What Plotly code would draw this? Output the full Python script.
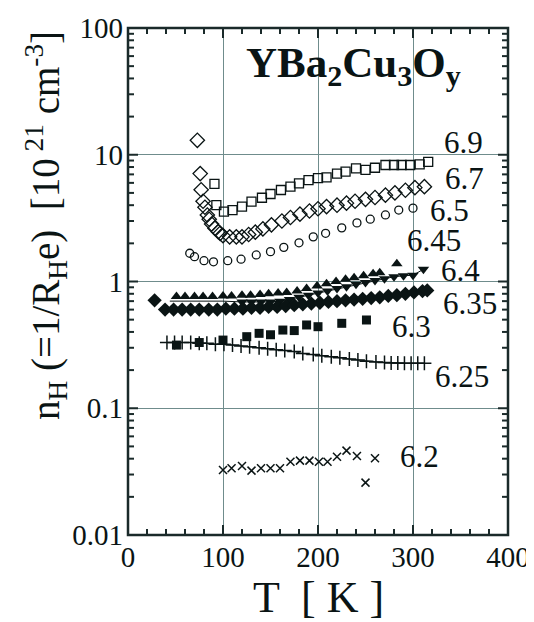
import math
import plotly.graph_objects as go

# ---- data ----
T_69 = [91, 93, 101, 110, 120, 130, 141, 150, 161, 171, 180, 190, 200, 209, 220, 229, 240, 250, 260, 271, 280, 288, 297, 307, 316]
n_69 = [5.9, 4.0, 3.56, 3.66, 3.89, 4.26, 4.58, 4.9, 5.27, 5.6, 5.95, 6.3, 6.55, 6.64, 7.1, 7.35, 7.8, 7.6, 7.9, 8.3, 8.3, 8.3, 8.3, 8.4, 8.8]

T_67 = [73, 76, 77, 79, 81, 83.5, 85.5, 88, 91.5, 95, 97, 100, 107, 114, 120, 127, 134, 142, 151, 162, 171, 181, 191, 200, 209, 220, 230, 239, 250, 260, 271, 281, 292, 302, 312]
n_67 = [13.0, 7.1, 5.3, 4.3, 3.85, 3.35, 3.1, 2.84, 2.63, 2.47, 2.4, 2.3, 2.25, 2.25, 2.25, 2.35, 2.45, 2.6, 2.8, 3.0, 3.2, 3.4, 3.6, 3.75, 3.9, 4.0, 4.15, 4.3, 4.45, 4.6, 4.8, 5.0, 5.25, 5.5, 5.6]

T_65 = [65, 70, 80, 90, 105, 119, 135, 150, 164, 180, 195, 208, 225, 241, 255, 271, 285, 300]
n_65 = [1.67, 1.57, 1.46, 1.43, 1.46, 1.5, 1.62, 1.72, 1.86, 2.02, 2.25, 2.4, 2.65, 2.9, 3.1, 3.35, 3.66, 3.79]

T_645 = [51, 60, 70, 79, 89, 100, 109, 120, 129, 139, 148, 158, 167, 178, 188, 199, 209, 219, 229, 238, 248, 258, 265, 283]
n_645 = [0.76, 0.76, 0.76, 0.76, 0.76, 0.77, 0.77, 0.78, 0.78, 0.79, 0.8, 0.81, 0.82, 0.84, 0.88, 0.92, 0.96, 1.0, 1.04, 1.07, 1.11, 1.15, 1.17, 1.38]

T_64 = [44, 60, 80, 100, 120, 130, 140, 150, 160, 170, 180, 190, 200, 210, 220, 230, 240, 250, 260, 270, 280, 290, 300, 311]
n_64 = [0.70, 0.70, 0.70, 0.70, 0.69, 0.69, 0.69, 0.69, 0.70, 0.72, 0.75, 0.78, 0.81, 0.84, 0.88, 0.91, 0.95, 0.98, 1.02, 1.05, 1.09, 1.11, 1.12, 1.25]

T_635 = [28, 39, 48, 57, 66, 75, 85, 94, 103, 112, 121, 130, 139, 148, 157, 166, 175, 184, 193, 202, 211, 220, 229, 238, 247, 256, 265, 274, 283, 292, 301, 310, 315]
n_635 = [0.71, 0.6, 0.6, 0.6, 0.6, 0.6, 0.6, 0.6, 0.61, 0.61, 0.61, 0.62, 0.62, 0.63, 0.63, 0.64, 0.65, 0.66, 0.67, 0.68, 0.69, 0.7, 0.71, 0.72, 0.73, 0.74, 0.75, 0.77, 0.78, 0.8, 0.82, 0.84, 0.85]

T_63 = [51, 75, 100, 125, 138, 150, 163, 175, 188, 200, 225, 251]
n_63 = [0.315, 0.33, 0.345, 0.367, 0.39, 0.38, 0.414, 0.41, 0.454, 0.44, 0.468, 0.497]

T_625 = [41, 49, 57, 66, 75, 83, 92, 101, 110, 119, 128, 138, 147, 156, 165, 175, 184, 195, 204, 214, 223, 233, 242, 251, 261, 270, 277, 284, 291, 298, 305, 312]
n_625 = [0.33, 0.33, 0.33, 0.33, 0.325, 0.325, 0.32, 0.32, 0.315, 0.31, 0.305, 0.3, 0.295, 0.29, 0.285, 0.28, 0.27, 0.265, 0.26, 0.255, 0.25, 0.245, 0.24, 0.235, 0.232, 0.23, 0.228, 0.227, 0.226, 0.226, 0.226, 0.226]

T_62 = [100, 109, 120, 130, 140, 150, 160, 171, 181, 191, 201, 210, 220, 230, 241, 250, 260]
n_62 = [0.0326, 0.0336, 0.035, 0.0322, 0.0336, 0.0336, 0.0336, 0.0379, 0.0386, 0.0386, 0.0379, 0.0379, 0.0415, 0.0463, 0.042, 0.0259, 0.0403]

series_labels = ["6.9", "6.7", "6.5", "6.45", "6.4", "6.35", "6.3", "6.25", "6.2"]
label_T = [331, 332, 316, 292, 327, 329, 276, 321, 284]
label_n = [12.4, 6.55, 3.66, 2.12, 1.23, 0.676, 0.44, 0.177, 0.0415]

x_ticks = [0, 100, 200, 300, 400]
x_minor = [t for t in range(0, 401, 20) if t % 100]
y_ticks = [0.01, 0.1, 1, 10, 100]
y_tick_text = ["0.01", "0.1", "1", "10", "100"]
y_minor = [d * m for d in [0.01, 0.1, 1, 10] for m in range(2, 10)]

X_RANGE = [0, 400]
Y_RANGE = [-2, 2]   # log10 decades

INK = "#0a1414"
FRAME = "#1a2a2a"
FONT = "Liberation Serif"

fig = go.Figure()

def add(T, n, symbol, size, lw=1.3, mode="markers", line=None, name=""):
    fig.add_trace(go.Scatter(
        x=T, y=n, mode=mode, name=name,
        marker=dict(symbol=symbol, size=size, color=INK, line=dict(color=INK, width=lw)),
        line=line, showlegend=False, cliponaxis=False))

add(T_69, n_69, "square-open", 9, name="6.9")
add(T_67, n_67, "diamond-open", 11, name="6.7")
add(T_65, n_65, "circle-open", 8, name="6.5")
add(T_645, n_645, "triangle-up", 10, lw=0, name="6.45")
fig.add_trace(go.Scatter(x=T_64, y=n_64, mode="lines", line=dict(color=INK, width=1),
                         showlegend=False, hoverinfo="skip"))
T_64m = [t for t in T_64 if t >= 115]
n_64m = [v for t, v in zip(T_64, n_64) if t >= 115]
add(T_64m, n_64m, "triangle-down", 10, lw=0, name="6.4")
add(T_635, n_635, "diamond", 11, lw=0, name="6.35")
add(T_63, n_63, "square", 9, lw=0, name="6.3")
add(T_625, n_625, "cross-thin", 10, lw=1.5, mode="lines+markers",
    line=dict(color=INK, width=1), name="6.25")
add(T_62, n_62, "x-thin", 8, lw=1.5, name="6.2")

for lab, lt, ln in zip(series_labels, label_T, label_n):
    fig.add_annotation(x=lt, y=math.log10(ln), text=lab, showarrow=False,
                       xanchor="left", yanchor="middle",
                       font=dict(family=FONT, size=31, color=INK))

fig.add_annotation(x=122, y=1.70, xref="x", yref="y",
                   text="<b>YBa<sub>2</sub>Cu<sub>3</sub>O<sub>y</sub></b>",
                   showarrow=False, xanchor="left", yanchor="middle",
                   font=dict(family=FONT, size=43, color=INK))

fig.add_annotation(x=-0.215, y=0.61, xref="paper", yref="paper", textangle=-90,
                   text="n<sub>H</sub> (=1/R<sub>H</sub>e)  [10<sup> 21</sup> cm<sup>-3</sup>]",
                   showarrow=False, xanchor="center", yanchor="middle",
                   font=dict(family=FONT, size=39, color=INK))

fig.add_annotation(x=0.5, y=-0.124, xref="paper", yref="paper",
                   text="T  [ K ]", showarrow=False, xanchor="center", yanchor="middle",
                   font=dict(family=FONT, size=44, color=INK))

# ---- frame and tick marks (inside, on all four sides) ----
fig.add_shape(type="rect", xref="paper", yref="paper", x0=0, y0=0, x1=1, y1=1,
              line=dict(color=FRAME, width=2.5), layer="above")

def x_tick(v, length):
    px = (v - X_RANGE[0]) / (X_RANGE[1] - X_RANGE[0])
    for anchor, sign in ((0, 1), (1, -1)):
        fig.add_shape(type="line", xref="paper", yref="paper", x0=px, x1=px,
                      ysizemode="pixel", yanchor=anchor, y0=0, y1=sign * length,
                      line=dict(color=FRAME, width=2), layer="above")

def y_tick(v, length):
    py = (math.log10(v) - Y_RANGE[0]) / (Y_RANGE[1] - Y_RANGE[0])
    for anchor, sign in ((0, 1), (1, -1)):
        fig.add_shape(type="line", xref="paper", yref="paper", y0=py, y1=py,
                      xsizemode="pixel", xanchor=anchor, x0=0, x1=sign * length,
                      line=dict(color=FRAME, width=2), layer="above")

for v in x_ticks[1:-1]:
    x_tick(v, 10)
for v in x_minor:
    x_tick(v, 6)
for v in y_ticks[1:-1]:
    y_tick(v, 10)
for v in y_minor:
    y_tick(v, 6)

tickfont = dict(family=FONT, size=29, color=INK)

fig.update_layout(
    width=526, height=614, margin=dict(l=120, r=26, t=20, b=87),
    paper_bgcolor="white", plot_bgcolor="white",
    font=dict(family=FONT, color=INK),
    xaxis=dict(range=X_RANGE, tickvals=x_ticks, ticks="", showline=False,
               showgrid=True, gridcolor="#6f8c8c", gridwidth=1, zeroline=False, automargin=False,
               tickfont=tickfont, ticklabelstandoff=2),
    yaxis=dict(type="log", range=Y_RANGE, tickvals=y_ticks, ticktext=y_tick_text,
               ticks="", showline=False, automargin=False,
               showgrid=True, gridcolor="#6f8c8c", gridwidth=1, zeroline=False,
               tickfont=tickfont, ticklabelstandoff=4),
)

fig.write_html("out.html")
